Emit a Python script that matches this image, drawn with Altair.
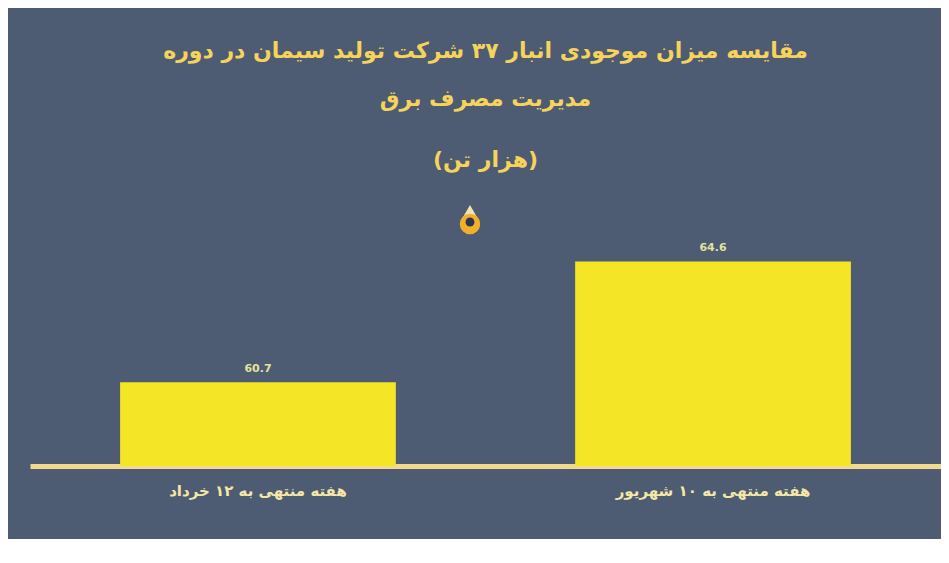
import altair as alt
import pandas as pd

categories = ["هفته منتهی به ۱۲ خرداد", "هفته منتهی به ۱۰ شهریور"]
values = [60.7, 64.6]
labels = ["60.7", "64.6"]

title_lines = ["مقایسه میزان موجودی انبار ۳۷ شرکت تولید سیمان در دوره", "مدیریت مصرف برق"]
subtitle_text = "(هزار تن)"

df = pd.DataFrame({"cat": categories, "val": values, "label": labels})

FONT = "DejaVu Sans"

x_enc = alt.X(
    "cat:N",
    sort=None,
    scale=alt.Scale(paddingInner=0.394, paddingOuter=0.198),
    axis=alt.Axis(
        title=None,
        ticks=False,
        labelAngle=0,
        labelLimit=0,
        labelColor="#f5e7a5",
        labelFontSize=15,
        labelFontWeight="bold",
        labelFont=FONT,
        labelPadding=17,
        domainColor="#f2d98e",
        domainWidth=5,
    ),
)
y_enc = alt.Y("val:Q", scale=alt.Scale(domain=[58, 66], zero=False, clamp=True), axis=None)

bars = alt.Chart(df).mark_bar(color="#f4e526").encode(x=x_enc, y=y_enc, y2=alt.datum(58))

texts = alt.Chart(df).mark_text(
    dy=-13, fontSize=11, fontWeight="bold", font=FONT, color="#e2e39c"
).encode(x=alt.X("cat:N", sort=None), y="val:Q", text="label:N")

logo_top = alt.Chart(pd.DataFrame({"k": [0]})).mark_point(
    filled=True, shape="triangle-up", size=260, color="#f3e3b0", opacity=1
).encode(x=alt.value(440), y=alt.value(-6))
logo_outer = alt.Chart(pd.DataFrame({"k": [0]})).mark_point(
    filled=True, shape="circle", size=420, color="#f0b02a", opacity=1
).encode(x=alt.value(440), y=alt.value(6))
logo_inner = alt.Chart(pd.DataFrame({"k": [0]})).mark_point(
    filled=True, shape="circle", size=80, color="#2f3550", opacity=1
).encode(x=alt.value(440), y=alt.value(4))

chart = (
    alt.layer(bars, texts, logo_top, logo_outer, logo_inner)
    .properties(
        width=911,
        height=248,
        padding={"left": 22, "top": 210, "right": 0, "bottom": 73},
        autosize=alt.AutoSizeParams(type="none"),
        background="#4d5b73",
        title=alt.TitleParams(
            text=title_lines,
            subtitle=subtitle_text,
            color="#f6d35b",
            subtitleColor="#f6d35b",
            font=FONT,
            subtitleFont=FONT,
            fontSize=22,
            subtitleFontSize=22,
            fontWeight="bold",
            subtitleFontWeight="bold",
            lineHeight=48,
            subtitlePadding=39,
            anchor="middle",
            offset=33,
        ),
    )
    .configure_view(stroke=None)
)

chart.save("out.html", embed_options={"renderer": "svg", "actions": False})
